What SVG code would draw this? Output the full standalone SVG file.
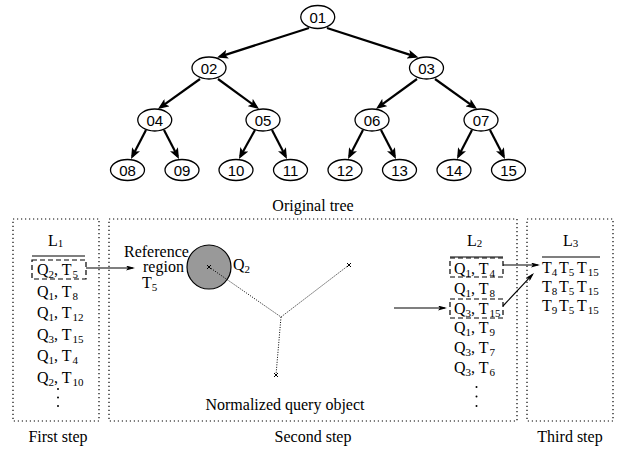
<svg xmlns="http://www.w3.org/2000/svg" width="620" height="456" viewBox="0 0 620 456">
<style>
.node ellipse{fill:#fff;stroke:#000;stroke-width:1.3}
.node text{font-family:"Liberation Sans",Arial,sans-serif;font-size:15px;text-anchor:middle;fill:#000}
.edge{stroke:#000;stroke-width:2.2;fill:none;marker-end:url(#ah)}
.thin{stroke:#000;stroke-width:1.1;fill:none;marker-end:url(#ah2)}
.box{fill:none;stroke:#000;stroke-width:1.2;stroke-dasharray:1.2 2.8}
.dash{fill:none;stroke:#000;stroke-width:1.2;stroke-dasharray:5 3}
.dot{fill:none;stroke:#000;stroke-width:1;stroke-dasharray:1 1.5}
.t{font-family:"Liberation Serif","Times New Roman",serif;font-size:16px;fill:#000}
.s{font-size:11px}
.c{text-anchor:middle}
.rule{stroke:#000;stroke-width:1.2}
</style>
<defs>
<marker id="ah" markerUnits="userSpaceOnUse" markerWidth="11" markerHeight="9" viewBox="0 0 11 9" refX="8" refY="4.5" orient="auto"><path d="M0,0 L11,4.5 L0,9 L2.5,4.5 z" fill="#000"/></marker>
<marker id="ah2" markerUnits="userSpaceOnUse" markerWidth="9" markerHeight="5" viewBox="0 0 9 5" refX="7" refY="2.5" orient="auto"><path d="M0,0 L9,2.5 L0,5 L2,2.5 z" fill="#000"/></marker>
</defs>

<g id="connectors">
<line class="edge" x1="309" y1="28" x2="219.9" y2="56.6"/>
<line class="edge" x1="327" y1="28" x2="415.6" y2="56.6"/>
<line class="edge" x1="200" y1="79" x2="160.4" y2="107.3"/>
<line class="edge" x1="218" y1="79" x2="256.6" y2="107.2"/>
<line class="edge" x1="417" y1="79" x2="378.4" y2="107.2"/>
<line class="edge" x1="435" y1="79" x2="474.6" y2="107.3"/>
<line class="edge" x1="146" y1="130" x2="132.4" y2="156.3"/>
<line class="edge" x1="164" y1="130" x2="177.6" y2="156.3"/>
<line class="edge" x1="255" y1="130" x2="240.4" y2="156.3"/>
<line class="edge" x1="272" y1="130" x2="285.6" y2="156.3"/>
<line class="edge" x1="363" y1="130" x2="349.4" y2="156.3"/>
<line class="edge" x1="381" y1="130" x2="394.6" y2="156.3"/>
<line class="edge" x1="472" y1="130" x2="458.4" y2="156.3"/>
<line class="edge" x1="490" y1="130" x2="503.6" y2="156.3"/>
<line class="thin" x1="86" y1="268" x2="133" y2="268"/>
<line class="thin" x1="394" y1="308" x2="445" y2="308"/>
<line class="thin" x1="503" y1="265" x2="538" y2="265"/>
<line class="thin" x1="503" y1="306" x2="532.6" y2="274.4"/>
</g>

<g id="n01" class="node"><ellipse cx="317.75" cy="17" rx="17" ry="11.5"/><text x="317.75" y="22.5">01</text></g>
<g id="n02" class="node"><ellipse cx="209" cy="68" rx="17" ry="11"/><text x="209" y="73.5">02</text></g>
<g id="n03" class="node"><ellipse cx="426.5" cy="68" rx="17" ry="11"/><text x="426.5" y="73.5">03</text></g>
<g id="n04" class="node"><ellipse cx="154.75" cy="120" rx="17" ry="11"/><text x="154.75" y="125.5">04</text></g>
<g id="n05" class="node"><ellipse cx="263" cy="120" rx="17" ry="11"/><text x="263" y="125.5">05</text></g>
<g id="n06" class="node"><ellipse cx="372" cy="120" rx="17" ry="11"/><text x="372" y="125.5">06</text></g>
<g id="n07" class="node"><ellipse cx="481" cy="120" rx="17" ry="11"/><text x="481" y="125.5">07</text></g>
<g id="n08" class="node"><ellipse cx="127.5" cy="170" rx="17" ry="10.5"/><text x="127.5" y="175.5">08</text></g>
<g id="n09" class="node"><ellipse cx="182" cy="170" rx="17" ry="10.5"/><text x="182" y="175.5">09</text></g>
<g id="n10" class="node"><ellipse cx="236" cy="170" rx="17" ry="10.5"/><text x="236" y="175.5">10</text></g>
<g id="n11" class="node"><ellipse cx="290.5" cy="170" rx="17" ry="10.5"/><text x="290.5" y="175.5">11</text></g>
<g id="n12" class="node"><ellipse cx="345" cy="170" rx="17" ry="10.5"/><text x="345" y="175.5">12</text></g>
<g id="n13" class="node"><ellipse cx="399.5" cy="170" rx="17" ry="10.5"/><text x="399.5" y="175.5">13</text></g>
<g id="n14" class="node"><ellipse cx="454" cy="170" rx="17" ry="10.5"/><text x="454" y="175.5">14</text></g>
<g id="n15" class="node"><ellipse cx="508.5" cy="170" rx="17" ry="10.5"/><text x="508.5" y="175.5">15</text></g>

<text class="t c" x="313" y="211">Original tree</text>

<g id="step1">
<rect class="box" x="13" y="219" width="86" height="202"/>
<text class="t" x="48" y="246">L<tspan class="s" dy="1">1</tspan></text>
<line class="rule" x1="32" y1="256" x2="85" y2="256"/>
<rect class="dash" x="32" y="260" width="54" height="19"/>
<text class="t" x="37" y="275">Q<tspan class="s" dy="3">2</tspan><tspan dy="-3">, T</tspan><tspan class="s" dx="1" dy="3">5</tspan></text>
<text class="t" x="37" y="296.5">Q<tspan class="s" dy="3">1</tspan><tspan dy="-3">, T</tspan><tspan class="s" dx="1" dy="3">8</tspan></text>
<text class="t" x="37" y="318">Q<tspan class="s" dy="3">1</tspan><tspan dy="-3">, T</tspan><tspan class="s" dx="1" dy="3">12</tspan></text>
<text class="t" x="37" y="339.5">Q<tspan class="s" dy="3">3</tspan><tspan dy="-3">, T</tspan><tspan class="s" dx="1" dy="3">15</tspan></text>
<text class="t" x="37" y="361">Q<tspan class="s" dy="3">1</tspan><tspan dy="-3">, T</tspan><tspan class="s" dx="1" dy="3">4</tspan></text>
<text class="t" x="37" y="382.5">Q<tspan class="s" dy="3">2</tspan><tspan dy="-3">, T</tspan><tspan class="s" dx="1" dy="3">10</tspan></text>
<circle cx="58" cy="389" r="1"/><circle cx="58" cy="397.5" r="1"/><circle cx="58" cy="406" r="1"/>
<text class="t c" x="58" y="442">First step</text>
</g>

<g id="step2">
<rect class="box" x="109" y="219" width="408" height="202"/>
<text class="t" x="124" y="257">Reference</text>
<text class="t" x="143" y="272">region</text>
<text class="t" x="142" y="288">T<tspan class="s" dy="3">5</tspan></text>
<circle cx="209" cy="267" r="22" fill="#999" stroke="#000" stroke-width="1.2"/>
<text class="t" x="233" y="270">Q<tspan class="s" dy="3">2</tspan></text>
<path class="dot" d="M209,267 L281,317 L349,265 M281,317 L276,375"/>
<path d="M207,265 l4,4 M211,265 l-4,4 M347,263 l4,4 M351,263 l-4,4 M274,373 l4,4 M278,373 l-4,4" stroke="#000" stroke-width="1"/>
<text class="t c" x="285" y="410">Normalized query object</text>
<text class="t c" x="313" y="442">Second step</text>
<text class="t" x="467" y="246">L<tspan class="s" dy="1">2</tspan></text>
<line class="rule" x1="450" y1="257" x2="503" y2="257"/>
<rect class="dash" x="450" y="258" width="53" height="19"/>
<rect class="dash" x="450" y="299" width="53" height="19"/>
<text class="t" x="454" y="274">Q<tspan class="s" dy="3">1</tspan><tspan dy="-3">, T</tspan><tspan class="s" dx="1" dy="3">4</tspan></text>
<text class="t" x="454" y="294">Q<tspan class="s" dy="3">1</tspan><tspan dy="-3">, T</tspan><tspan class="s" dx="1" dy="3">8</tspan></text>
<text class="t" x="454" y="313.5">Q<tspan class="s" dy="3">3</tspan><tspan dy="-3">, T</tspan><tspan class="s" dx="1" dy="3">15</tspan></text>
<text class="t" x="454" y="333">Q<tspan class="s" dy="3">1</tspan><tspan dy="-3">, T</tspan><tspan class="s" dx="1" dy="3">9</tspan></text>
<text class="t" x="454" y="353">Q<tspan class="s" dy="3">3</tspan><tspan dy="-3">, T</tspan><tspan class="s" dx="1" dy="3">7</tspan></text>
<text class="t" x="454" y="373">Q<tspan class="s" dy="3">3</tspan><tspan dy="-3">, T</tspan><tspan class="s" dx="1" dy="3">6</tspan></text>
<circle cx="476.5" cy="387" r="1"/><circle cx="476.5" cy="396.5" r="1"/><circle cx="476.5" cy="406" r="1"/>
</g>

<g id="step3">
<rect class="box" x="527" y="219" width="86" height="202"/>
<text class="t" x="563" y="246">L<tspan class="s" dy="1">3</tspan></text>
<line class="rule" x1="542" y1="257" x2="600" y2="257"/>
<text class="t" x="542" y="273">T<tspan class="s" dy="3">4</tspan><tspan x="559" dy="-3">T</tspan><tspan class="s" dy="3">5</tspan><tspan x="577" dy="-3">T</tspan><tspan class="s" dx="1" dy="3">15</tspan></text>
<text class="t" x="542" y="292">T<tspan class="s" dy="3">8</tspan><tspan x="559" dy="-3">T</tspan><tspan class="s" dy="3">5</tspan><tspan x="577" dy="-3">T</tspan><tspan class="s" dx="1" dy="3">15</tspan></text>
<text class="t" x="542" y="311">T<tspan class="s" dy="3">9</tspan><tspan x="559" dy="-3">T</tspan><tspan class="s" dy="3">5</tspan><tspan x="577" dy="-3">T</tspan><tspan class="s" dx="1" dy="3">15</tspan></text>
<text class="t c" x="570" y="442">Third step</text>
</g>
</svg>
